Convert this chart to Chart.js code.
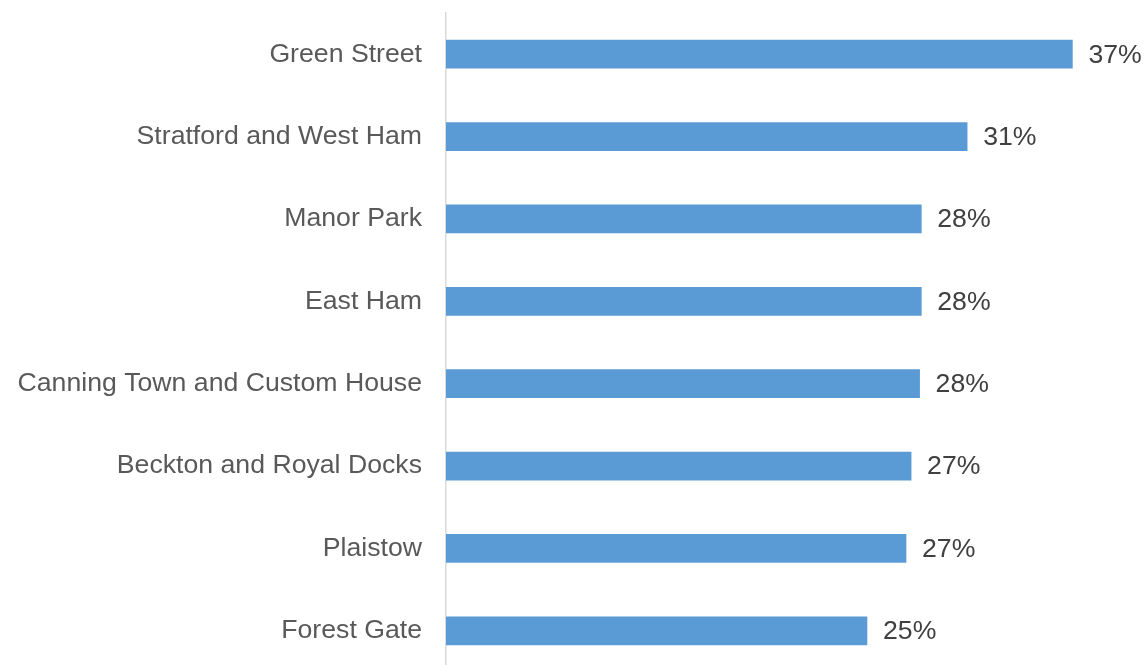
<!DOCTYPE html>
<html>
<head>
<meta charset="utf-8">
<script src="https://cdn.jsdelivr.net/npm/chart.js@4/dist/chart.umd.min.js"></script>
<style>
  html, body { margin: 0; padding: 0; background: #fff; overflow: hidden; }
  #wrap { width: 1145px; height: 672px; }
</style>
</head>
<body>
<div id="wrap"><canvas id="chart" width="1145" height="672"></canvas></div>
<script>
const wards = [
    'Green Street',
    'Stratford and West Ham',
    'Manor Park',
    'East Ham',
    'Canning Town and Custom House',
    'Beckton and Royal Docks',
    'Plaistow',
    'Forest Gate'
];
const shares = [36.9, 30.7, 28.0, 28.0, 27.9, 27.4, 27.1, 24.8];

const barColor = '#5b9bd5';
const labelFont = '"Liberation Sans", Arial, sans-serif';
const fontSize = 26.67;

// подписи значений справа от столбцов
const valueLabels = {
    id: 'valueLabels',
    afterDatasetsDraw(chart) {
        const ctx = chart.ctx;
        const meta = chart.getDatasetMeta(0);
        ctx.save();
        ctx.font = fontSize + 'px ' + labelFont;
        ctx.fillStyle = '#404040';
        ctx.textAlign = 'left';
        ctx.textBaseline = 'middle';
        meta.data.forEach((bar, i) => {
            ctx.fillText(Math.round(shares[i]) + '%', bar.x + 16, bar.y + 1);
        });
        ctx.restore();
    }
};

const ctx = document.getElementById('chart').getContext('2d');
new Chart(ctx, {
    type: 'bar',
    data: {
        labels: wards,
        datasets: [{
            data: shares,
            backgroundColor: barColor,
            borderWidth: 0,
            barThickness: 28
        }]
    },
    options: {
        indexAxis: 'y',
        responsive: false,
        animation: false,
        layout: { padding: { top: 13, right: 20, bottom: 0, left: 0 } },
        plugins: {
            legend: { display: false },
            tooltip: { enabled: false }
        },
        scales: {
            x: {
                display: false,
                min: 0,
                max: 40
            },
            y: {
                grid: { display: false, drawTicks: false },
                border: { display: true, color: '#d9d9d9', width: 1.5 },
                ticks: {
                    color: '#595959',
                    padding: 24,
                    font: { size: fontSize, family: labelFont }
                },
                afterFit(scale) {
                    scale.width = 446;
                    scale.paddingTop = 0;
                    scale.paddingBottom = 0;
                }
            }
        }
    },
    plugins: [valueLabels]
});
</script>
</body>
</html>
